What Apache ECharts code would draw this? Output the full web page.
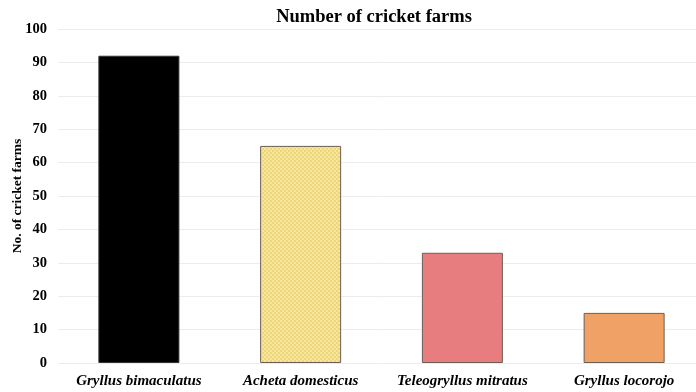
<!DOCTYPE html>
<html>
<head>
<meta charset="utf-8">
<script src="https://cdn.jsdelivr.net/npm/echarts@6/dist/echarts.min.js"></script>
<style>
  html, body { margin: 0; padding: 0; background: #fff; }
  #chart { width: 696px; height: 392px; }
</style>
</head>
<body>
<div id="chart"></div>
<script>
var species = ['Gryllus bimaculatus', 'Acheta domesticus', 'Teleogryllus mitratus', 'Gryllus locorojo'];
var farms = [92, 65, 33, 15];
var barColors = ['#000000', '#f2df8c', '#e87d7f', '#f0a166'];

// small checker texture for the dotted yellow bar
function makePattern(base, dot) {
  var c = document.createElement('canvas');
  c.width = 4;
  c.height = 4;
  var ctx = c.getContext('2d');
  ctx.fillStyle = base;
  ctx.fillRect(0, 0, 4, 4);
  ctx.fillStyle = dot;
  ctx.fillRect(0, 0, 2, 2);
  ctx.fillRect(2, 2, 2, 2);
  return c;
}

var chart = echarts.init(document.getElementById('chart'));
var serif = '"Liberation Serif", "DejaVu Serif", serif';

var data = farms.map(function (v, i) {
  var color = barColors[i];
  if (i == 1) {
    color = { image: makePattern('#eed676', '#f6e7a0'), repeat: 'repeat' };
  }
  return {
    value: v,
    itemStyle: { color: color, borderColor: i == 0 ? '#333' : '#6b5f55', borderWidth: 1 }
  };
});

var option = {
  animation: false,
  title: {
    text: 'Number of cricket farms',
    left: 369,
    textAlign: 'center',
    top: 3,
    textStyle: { fontFamily: serif, fontWeight: 'bold', fontSize: 18.5, color: '#000' }
  },
  grid: { left: 58, right: -9, top: 29, bottom: 29, outerBoundsMode: 'none', containLabel: false },
  xAxis: {
    type: 'category',
    data: species,
    axisLine: { show: false },
    axisTick: { show: false },
    axisLabel: {
      interval: 0,
      hideOverlap: false,
      margin: 11,
      fontFamily: serif, fontWeight: 'bold', fontStyle: 'italic', fontSize: 15, color: '#000'
    }
  },
  yAxis: {
    type: 'value',
    min: 0,
    max: 100,
    interval: 10,
    name: 'No. of cricket farms',
    nameLocation: 'middle',
    nameGap: 33,
    nameMoveOverlap: false,
    nameTextStyle: { fontFamily: serif, fontWeight: 'bold', fontSize: 13.5, color: '#000' },
    axisLabel: { margin: 11, fontFamily: serif, fontWeight: 'bold', fontSize: 14.5, color: '#000' },
    splitLine: { lineStyle: { color: '#ececec', width: 1 } }
  },
  series: [{
    type: 'bar',
    data: data,
    barWidth: 81
  }]
};
chart.setOption(option);
</script>
</body>
</html>
